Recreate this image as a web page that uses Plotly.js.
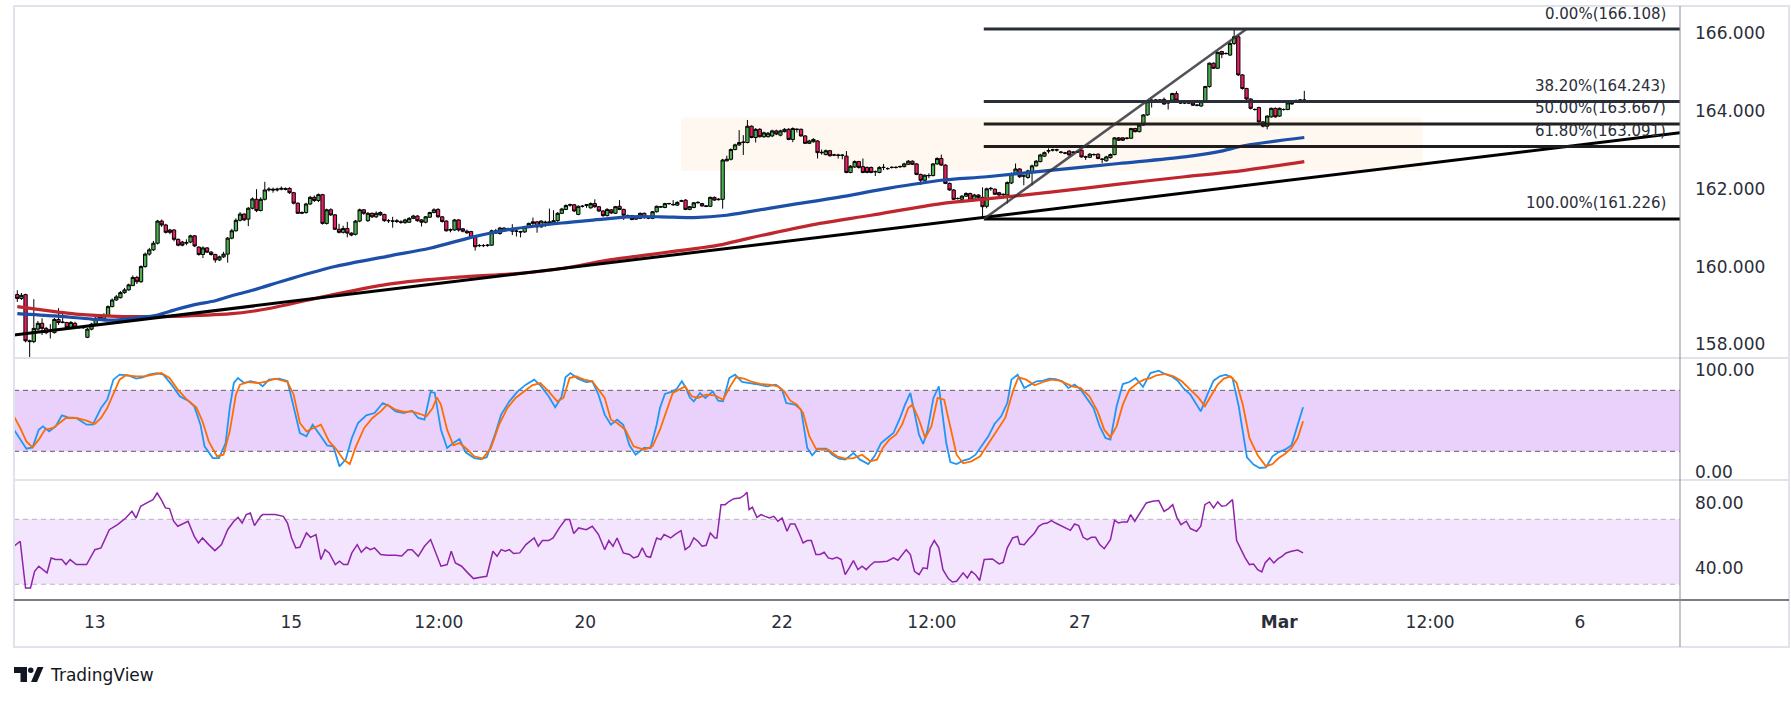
<!DOCTYPE html>
<html>
<head>
<meta charset="utf-8">
<script src="https://cdn.plot.ly/plotly-3.0.1.min.js"></script>
<style>
html,body{margin:0;padding:0;background:#ffffff;}
#chart{width:1791px;height:701px;}
</style>
</head>
<body>
<div id="chart"></div>
<script>
// ---------- price data (hourly candles, bar index 0..312) ----------
const openP = [
159.28,159.18,159.28,158.09,158.07,158.39,158.54,158.41,158.33,158.30,
158.64,158.56,158.56,158.43,158.54,158.44,158.43,158.18,158.39,158.52,
158.67,158.66,158.74,158.97,159.14,159.20,159.33,159.40,159.51,159.72,
159.61,160.00,160.32,160.43,160.60,161.17,161.07,160.94,160.94,160.70,
160.63,160.60,160.63,160.79,160.50,160.31,160.48,160.37,160.31,160.17,
160.25,160.32,160.73,160.92,161.19,161.35,161.22,161.50,161.73,161.44,
161.73,161.97,161.99,161.97,161.99,162.01,162.01,161.90,161.63,161.37,
161.39,161.61,161.78,161.70,161.85,161.11,161.46,161.33,160.96,160.88,
160.98,160.86,160.83,161.17,161.46,161.18,161.37,161.28,161.39,161.34,
161.18,161.17,161.18,161.15,161.13,161.14,161.24,161.30,161.20,161.14,
161.27,161.39,161.47,161.28,161.17,160.95,160.94,161.20,160.97,160.91,
160.90,160.75,160.54,160.54,160.54,160.55,160.92,160.85,160.99,160.96,
160.98,160.91,160.90,160.89,161.01,161.11,161.15,161.02,161.13,161.11,
161.11,161.18,161.37,161.47,161.58,161.59,161.34,161.55,161.57,161.51,
161.62,161.54,161.43,161.31,161.46,161.37,161.55,161.47,161.31,161.31,
161.22,161.24,161.37,161.25,161.24,161.41,161.53,161.52,161.62,161.60,
161.58,161.68,161.71,161.47,161.52,161.64,161.62,161.56,161.55,161.78,
161.72,161.73,162.72,162.76,163.01,163.13,163.19,163.19,163.61,163.32,
163.53,163.34,163.34,163.36,163.49,163.38,163.47,163.53,163.27,163.53,
163.53,163.36,163.17,163.21,163.23,162.94,162.88,162.98,162.87,162.87,
162.87,162.84,162.42,162.56,162.70,162.57,162.55,162.55,162.44,162.42,
162.55,162.52,162.55,162.55,162.57,162.57,162.63,162.71,162.64,162.37,
162.22,162.34,162.34,162.64,162.78,162.61,162.14,161.97,161.75,161.73,
161.81,161.88,161.71,161.84,161.78,161.55,162.00,161.99,161.90,161.86,
161.84,162.15,162.39,162.51,162.33,162.29,162.44,162.59,162.70,162.84,
162.97,163.00,163.00,162.94,162.92,162.97,162.94,162.95,162.99,162.82,
162.81,162.88,162.89,162.76,162.72,162.80,162.88,163.31,163.31,163.30,
163.30,163.55,163.47,163.64,163.90,164.26,164.28,164.28,164.30,164.22,
164.28,164.45,164.21,164.21,164.21,164.21,164.15,164.13,164.24,164.63,
165.23,165.10,165.53,165.48,165.44,165.74,165.91,164.93,164.58,164.31,
164.04,164.09,163.72,163.61,163.85,164.07,163.87,164.04,164.04,164.19,
164.25,164.28,164.28];

const highP = [
159.39,159.32,159.30,158.12,159.16,158.60,158.67,158.45,158.52,158.68,
158.93,158.84,158.58,158.60,158.58,158.46,158.47,158.42,158.55,158.72,
158.78,158.80,159.00,159.18,159.27,159.37,159.45,159.56,159.77,159.76,
160.03,160.36,160.48,160.66,161.20,161.21,161.10,160.97,160.96,160.72,
160.66,160.70,160.82,160.81,160.52,160.52,160.50,160.40,160.33,160.28,
160.38,160.76,160.97,161.24,161.40,161.37,161.53,161.78,161.99,161.78,
162.18,162.04,162.03,162.03,162.06,162.03,162.04,161.92,161.65,161.42,
161.64,161.82,161.83,161.88,161.87,161.49,161.50,161.35,161.10,161.05,
161.15,160.88,161.20,161.49,161.48,161.40,161.39,161.42,161.42,161.36,
161.22,161.28,161.22,161.19,161.23,161.27,161.33,161.32,161.22,161.30,
161.41,161.50,161.50,161.30,161.19,160.98,161.22,161.22,160.99,160.95,
160.92,160.77,160.58,160.58,160.58,160.95,160.97,161.02,161.01,161.00,
161.09,161.02,160.92,161.03,161.13,161.26,161.17,161.19,161.18,161.49,
161.45,161.40,161.51,161.60,161.62,161.61,161.57,161.58,161.61,161.65,
161.73,161.56,161.45,161.50,161.48,161.56,161.71,161.49,161.34,161.33,
161.30,161.39,161.39,161.28,161.43,161.57,161.56,161.64,161.64,161.71,
161.68,161.72,161.73,161.56,161.66,161.68,161.64,161.58,161.80,161.80,
161.76,162.77,162.85,163.04,163.16,163.51,163.38,163.77,163.63,163.56,
163.56,163.47,163.46,163.52,163.52,163.52,163.56,163.56,163.58,163.55,
163.55,163.38,163.26,163.30,163.25,163.01,163.01,163.00,162.90,162.90,
162.89,162.97,162.61,162.73,162.72,162.78,162.57,162.57,162.47,162.58,
162.64,162.55,162.58,162.58,162.60,162.67,162.74,162.73,162.66,162.39,
162.37,162.40,162.66,162.81,162.88,162.63,162.16,161.99,161.78,161.84,
161.91,161.90,161.87,161.86,162.04,162.03,162.05,162.01,161.92,161.88,
162.19,162.42,162.65,162.53,162.36,162.49,162.62,162.74,162.90,162.96,
163.04,163.03,163.03,162.97,162.95,162.99,162.97,162.98,163.01,162.85,
162.92,162.91,162.91,162.79,162.85,162.91,163.33,163.33,163.33,163.33,
163.57,163.57,163.66,163.92,164.26,164.30,164.31,164.31,164.35,164.24,
164.47,164.51,164.24,164.24,164.24,164.23,164.18,164.26,164.65,165.25,
165.25,165.53,165.55,165.51,165.77,166.108,165.95,164.95,164.60,164.33,
164.07,164.11,163.74,163.89,164.09,164.09,164.09,164.07,164.23,164.22,
164.30,164.31,164.52];

const lowP = [
159.09,159.14,158.05,157.66,158.03,158.35,158.24,158.26,158.15,158.28,
158.50,158.54,158.40,158.40,158.41,158.41,158.40,158.16,158.36,158.50,
158.60,158.64,158.72,158.95,159.12,159.18,159.30,159.38,159.50,159.55,
159.58,159.97,160.28,160.40,160.57,161.02,160.85,160.83,160.65,160.52,
160.52,160.55,160.60,160.50,160.28,160.22,160.35,160.28,160.10,160.14,
160.22,160.10,160.70,160.90,161.16,161.17,161.04,161.47,161.40,161.42,
161.70,161.93,161.90,161.93,161.96,161.96,161.87,161.60,161.35,161.35,
161.36,161.58,161.66,161.66,161.08,161.08,161.30,160.94,160.85,160.85,
160.75,160.78,160.80,161.14,161.33,161.15,161.25,161.25,161.30,161.15,
161.12,161.00,161.12,161.10,161.10,161.12,161.22,161.15,161.03,161.11,
161.25,161.37,161.25,161.13,160.90,160.88,160.92,160.90,160.88,160.84,
160.72,160.41,160.50,160.50,160.51,160.53,160.84,160.82,160.90,160.93,
160.81,160.77,160.75,160.87,160.99,161.07,160.87,161.00,161.02,161.09,
161.09,161.15,161.35,161.45,161.54,161.40,161.32,161.52,161.51,161.49,
161.51,161.40,161.28,161.29,161.35,161.35,161.45,161.20,161.28,161.19,
161.20,161.22,161.23,161.22,161.22,161.39,161.51,161.50,161.59,161.57,
161.56,161.66,161.45,161.45,161.50,161.62,161.54,161.53,161.53,161.69,
161.70,161.49,162.70,162.73,162.99,163.10,162.87,163.17,163.30,163.19,
163.32,163.31,163.32,163.33,163.38,163.35,163.45,163.25,163.20,163.45,
163.34,163.15,163.15,163.19,162.78,162.88,162.86,162.83,162.84,162.78,
162.76,162.40,162.40,162.54,162.52,162.40,162.40,162.40,162.33,162.40,
162.48,162.49,162.52,162.52,162.54,162.55,162.61,162.61,162.35,162.10,
162.20,162.27,162.32,162.62,162.59,162.12,161.95,161.71,161.72,161.71,
161.79,161.69,161.69,161.76,161.226,161.50,161.95,161.84,161.80,161.75,
161.62,162.12,162.36,162.28,162.09,162.26,162.09,162.57,162.68,162.82,
162.91,162.96,162.96,162.91,162.89,162.85,162.91,162.92,162.80,162.74,
162.79,162.85,162.76,162.66,162.70,162.78,162.86,163.23,163.23,163.27,
163.28,163.45,163.45,163.62,163.88,164.09,164.25,164.25,164.16,164.04,
164.26,164.26,164.18,164.18,164.18,164.13,164.12,164.11,164.22,164.60,
165.08,165.08,165.36,165.45,165.42,165.70,164.90,164.55,164.28,164.04,
164.01,163.70,163.58,163.53,163.83,163.83,163.85,164.01,164.02,164.16,
164.23,164.25,164.24];

const closeP = [
159.18,159.26,158.09,158.07,158.41,158.54,158.41,158.30,158.36,158.64,
158.56,158.57,158.43,158.56,158.44,158.43,158.43,158.39,158.52,158.67,
158.71,158.74,158.97,159.14,159.22,159.33,159.40,159.53,159.72,159.61,
160.00,160.32,160.43,160.60,161.17,161.07,160.88,160.88,160.70,160.55,
160.55,160.62,160.79,160.53,160.31,160.48,160.37,160.31,160.17,160.25,
160.32,160.73,160.92,161.19,161.35,161.20,161.50,161.74,161.44,161.73,
161.97,161.99,161.97,161.99,162.01,161.99,161.90,161.63,161.37,161.39,
161.61,161.78,161.70,161.85,161.11,161.46,161.33,160.96,160.88,160.98,
160.86,160.81,161.17,161.46,161.37,161.37,161.28,161.37,161.33,161.18,
161.18,161.17,161.16,161.14,161.20,161.24,161.30,161.18,161.14,161.28,
161.39,161.46,161.28,161.16,160.92,160.94,161.20,160.94,160.91,160.87,
160.75,160.51,160.54,160.54,160.55,160.92,160.86,160.99,160.92,160.97,
160.91,160.91,160.89,161.01,161.11,161.15,161.02,161.17,161.14,161.15,
161.18,161.37,161.48,161.57,161.59,161.43,161.55,161.55,161.59,161.62,
161.54,161.43,161.31,161.47,161.38,161.54,161.47,161.32,161.31,161.21,
161.28,161.37,161.26,161.25,161.41,161.55,161.54,161.62,161.62,161.59,
161.65,161.69,161.47,161.54,161.64,161.65,161.56,161.55,161.78,161.71,
161.73,162.74,162.76,163.01,163.13,163.19,163.20,163.61,163.32,163.53,
163.34,163.44,163.43,163.49,163.41,163.49,163.53,163.27,163.55,163.53,
163.36,163.17,163.23,163.27,162.93,162.93,162.98,162.85,162.87,162.86,
162.86,162.42,162.58,162.70,162.55,162.42,162.42,162.42,162.44,162.55,
162.55,162.52,162.55,162.55,162.57,162.64,162.71,162.63,162.37,162.22,
162.35,162.34,162.64,162.78,162.61,162.14,161.97,161.73,161.75,161.81,
161.88,161.71,161.84,161.78,161.54,162.00,162.01,161.86,161.84,161.85,
162.16,162.39,162.51,162.31,162.33,162.46,162.59,162.71,162.87,162.93,
162.98,163.00,163.00,162.94,162.92,162.87,162.94,162.95,162.82,162.82,
162.89,162.88,162.78,162.76,162.82,162.88,163.31,163.25,163.25,163.30,
163.55,163.47,163.64,163.90,164.24,164.28,164.28,164.28,164.18,164.21,
164.45,164.28,164.21,164.21,164.21,164.15,164.15,164.24,164.63,165.23,
165.10,165.51,165.46,165.48,165.74,165.91,164.93,164.58,164.31,164.07,
164.04,163.72,163.61,163.87,164.07,163.85,164.07,164.04,164.21,164.19,
164.27,164.28,164.28];

// ---------- moving averages: [bar index, price] ----------
const emaBlue = [[0,158.79],[9,158.73],[18,158.65],[23,158.62],[28,158.67],[33,158.73],[38,158.88],[43,159.02],
[48,159.12],[52,159.25],[57,159.39],[66,159.68],[77,160.00],[90,160.27],[100,160.47],[110,160.75],[116,160.89],
[121,160.98],[132,161.12],[142,161.22],[148,161.28],[156,161.28],[164,161.26],[172,161.32],[175,161.37],
[187,161.58],[199,161.78],[211,162.01],[224,162.22],[235,162.31],[251,162.48],[267,162.65],[283,162.82],
[291,162.95],[298,163.12],[312,163.32]];
const emaRed = [[0,158.97],[10,158.83],[15,158.77],[24,158.72],[31,158.71],[38,158.72],[52,158.79],[57,158.85],
[61,158.92],[74,159.22],[90,159.55],[107,159.73],[121,159.82],[132,159.95],[144,160.18],[149,160.25],
[170,160.55],[177,160.72],[193,161.08],[207,161.32],[224,161.62],[235,161.74],[251,161.92],[267,162.12],
[283,162.31],[295,162.44],[312,162.70]];

// ---------- Stochastic RSI %K / %D and RSI: [bar index, value] ----------
const stochK = [[-0.8,41.3],[0.7,31.5],[2.2,22.6],[3.7,23.9],[5.2,41.3],[6.2,44.6],[7.7,39.7],[9.3,44.6],[10.8,55.4],
[12.3,53.4],[14.3,52.8],[16.8,46.2],[18.3,46.2],[20.3,62.6],[21.8,70.8],[23.3,90.5],[24.8,95.4],[26.8,94.8],
[28.8,91.5],[30.4,92.8],[31.9,95.4],[33.9,97.0],[35.4,95.4],[37.4,85.6],[39.4,74.1],[41.4,69.8],[42.9,64.3],
[44.4,46.2],[45.4,24.9],[47.4,13.4],[48.9,13.4],[50.5,28.2],[51.5,62.6],[52.5,87.2],[53.5,92.1],[55.0,87.2],
[56.5,88.9],[58.5,87.2],[59.5,83.9],[61.0,90.5],[63.5,91.5],[65.5,88.9],[67.0,64.3],[68.5,38.0],[70.1,34.8],
[71.6,46.2],[73.6,34.8],[75.1,25.9],[76.6,24.9],[78.1,5.2],[79.6,11.8],[81.1,33.1],[82.6,47.9],[84.6,55.4],
[86.6,57.7],[88.6,67.5],[90.2,64.3],[91.7,59.3],[93.7,57.7],[95.7,60.0],[97.2,52.8],[98.7,51.1],[100.2,78.4],
[101.2,77.4],[102.7,41.3],[104.2,23.3],[105.7,28.2],[107.2,32.1],[108.7,19.0],[110.8,13.4],[112.3,12.5],
[113.8,14.1],[115.8,36.4],[117.3,56.1],[119.3,69.2],[121.3,79.0],[123.3,85.6],[125.3,90.5],[126.8,84.9],
[128.8,74.1],[130.4,63.3],[131.9,73.1],[132.9,92.8],[134.1,97.0],[135.9,91.5],[137.9,88.2],[139.4,88.9],
[140.9,75.7],[142.4,56.1],[143.9,46.2],[145.4,51.1],[146.9,46.2],[148.4,25.9],[149.9,16.7],[151.9,23.3],
[153.5,23.3],[155.0,46.2],[155.8,62.6],[157.0,76.4],[158.9,79.0],[159.9,81.6],[161.1,88.9],[162.1,82.3],
[163.0,73.1],[164.0,69.2],[165.5,77.4],[166.8,72.5],[168.6,79.0],[169.9,69.8],[171.1,69.2],[172.6,92.1],
[174.0,95.4],[175.7,88.2],[177.7,87.2],[179.8,85.6],[181.8,83.9],[183.9,85.6],[185.4,80.7],[186.4,67.5],
[188.5,65.9],[190.0,61.0],[191.5,23.3],[192.7,16.1],[194.1,22.6],[196.1,22.6],[197.6,16.7],[199.2,12.8],
[200.7,11.8],[202.7,18.4],[204.3,11.8],[206.3,7.5],[207.8,15.1],[209.4,28.2],[210.9,33.1],[212.4,38.0],
[214.0,52.8],[215.2,65.9],[216.5,77.4],[217.5,57.7],[218.6,36.4],[219.6,27.2],[220.6,39.7],[222.1,72.5],
[223.4,83.9],[224.4,52.8],[225.2,28.2],[226.2,9.5],[227.7,7.5],[229.3,10.8],[230.8,12.5],[232.3,16.7],
[233.9,25.9],[235.4,34.8],[236.9,46.9],[238.5,54.4],[240.0,67.5],[241.0,90.5],[242.5,95.4],[244.1,82.3],
[245.6,85.6],[247.1,88.9],[248.7,89.5],[250.2,91.5],[251.7,91.1],[253.3,88.9],[254.8,82.3],[256.3,85.6],
[257.8,80.7],[259.4,70.8],[260.9,62.6],[262.4,44.6],[263.8,33.1],[265.0,31.5],[266.5,64.3],[268.0,86.2],
[269.6,88.2],[271.1,92.1],[272.9,83.3],[274.7,97.0],[276.7,99.3],[278.2,96.1],[279.8,93.8],[281.3,89.5],
[282.8,81.6],[284.4,75.7],[285.9,65.9],[286.9,59.3],[288.5,75.7],[290.0,89.5],[291.5,93.8],[293.0,95.4],
[294.6,92.1],[296.1,64.3],[298.1,14.1],[299.7,6.9],[301.2,3.6],[302.7,4.3],[304.3,15.1],[305.8,19.3],
[307.3,21.6],[308.9,25.9],[310.4,46.2],[311.7,63.3]];

const stochD = [[-0.8,54.4],[0.7,43.0],[2.2,29.8],[3.7,23.9],[5.2,31.5],[6.7,41.3],[8.7,43.0],[10.3,47.9],[11.8,52.8],
[14.3,52.8],[16.8,50.2],[18.8,46.9],[20.3,52.8],[21.8,62.6],[23.3,77.4],[24.8,90.5],[26.3,94.8],[28.8,93.8],
[30.9,93.8],[32.9,95.4],[34.9,97.0],[36.9,92.1],[38.9,80.7],[40.9,71.8],[43.4,63.3],[44.9,49.5],[46.4,29.8],
[48.4,15.1],[50.0,16.7],[51.5,39.7],[53.0,75.7],[54.0,85.6],[56.0,88.2],[58.5,87.2],[60.5,88.9],[62.5,91.5],
[65.5,88.2],[67.0,75.7],[68.5,47.9],[70.1,39.7],[72.1,43.0],[73.6,46.2],[75.6,29.8],[77.1,23.3],[79.1,11.8],
[80.6,7.5],[82.1,24.9],[84.1,43.0],[86.1,52.8],[88.1,59.3],[89.7,65.9],[91.7,61.0],[93.7,58.7],[95.7,59.3],
[97.7,56.7],[99.2,54.4],[100.7,62.6],[101.7,73.1],[102.7,65.9],[104.2,41.3],[105.7,25.9],[107.2,28.2],
[108.7,23.3],[110.8,15.1],[112.8,12.8],[114.8,23.3],[116.8,46.2],[118.8,62.6],[120.8,72.5],[122.8,79.0],
[124.8,84.9],[126.8,87.2],[128.8,79.0],[130.9,69.2],[132.4,72.5],[133.9,92.1],[135.4,93.8],[137.4,90.5],
[139.4,88.9],[140.9,80.7],[142.4,72.5],[143.9,51.1],[145.4,47.9],[147.4,41.3],[149.4,24.9],[151.9,21.6],
[154.0,24.9],[155.8,41.3],[157.3,59.3],[158.9,77.4],[160.4,80.7],[161.9,83.9],[163.5,74.1],[165.0,72.5],
[167.0,75.7],[169.1,75.1],[171.1,70.8],[172.6,82.3],[174.2,92.8],[176.2,91.5],[178.2,88.2],[180.3,86.2],
[182.3,85.6],[184.4,83.9],[185.9,79.0],[187.4,69.8],[189.0,65.9],[190.5,57.7],[192.0,34.8],[193.6,22.6],
[195.1,21.6],[196.6,21.6],[198.7,15.1],[200.7,12.8],[202.7,13.4],[204.8,16.7],[206.8,10.2],[208.4,11.8],
[209.9,23.9],[211.4,31.5],[213.0,36.4],[214.5,46.2],[216.0,62.6],[217.0,65.9],[218.6,51.1],[220.1,33.1],
[221.6,44.6],[223.1,72.5],[224.7,70.8],[226.2,43.0],[227.7,16.7],[229.3,8.2],[231.3,10.2],[233.4,15.1],
[235.4,27.2],[237.4,39.7],[239.5,52.8],[241.5,80.7],[242.7,92.8],[244.6,90.5],[246.6,84.9],[248.7,88.2],
[250.7,90.5],[252.7,89.5],[254.3,86.2],[255.8,83.9],[257.8,82.3],[259.9,74.1],[261.9,59.3],[263.5,41.3],
[265.0,33.8],[266.5,44.6],[268.0,65.9],[269.6,80.7],[271.6,87.2],[273.1,90.5],[274.7,92.1],[276.2,94.8],
[278.2,96.1],[280.3,93.8],[282.3,88.9],[284.4,80.7],[286.4,72.5],[287.9,64.3],[289.5,75.7],[291.0,85.6],
[292.5,91.5],[294.1,93.8],[295.6,87.2],[297.1,65.9],[298.7,33.1],[300.7,16.1],[302.7,5.2],[304.3,7.5],
[305.8,13.4],[307.3,17.4],[308.9,23.3],[310.4,33.1],[311.7,49.5]];

const rsi = [[-0.8,53.4],[0.7,56.5],[2.0,27.7],[3.2,27.7],[4.2,38.0],[5.2,41.1],[7.2,37.0],[8.2,46.2],[9.3,45.2],
[10.8,45.2],[11.8,42.1],[12.8,45.2],[14.3,42.1],[16.8,42.1],[18.8,51.3],[20.3,52.4],[22.3,63.6],[24.3,66.7],
[26.3,70.8],[27.8,74.9],[28.8,70.8],[29.9,78.0],[31.4,80.1],[32.9,82.1],[33.9,86.2],[34.9,82.1],[35.9,77.0],
[36.9,76.6],[37.9,68.8],[38.9,65.7],[41.4,68.8],[42.9,59.5],[43.9,55.4],[44.9,58.5],[46.4,54.4],[47.9,50.7],
[49.5,54.4],[51.0,63.6],[52.5,68.8],[53.5,71.2],[54.5,67.7],[55.5,72.9],[56.5,73.9],[57.5,66.1],[59.0,71.8],
[59.5,72.9],[62.5,72.9],[64.5,71.8],[65.5,67.7],[66.5,58.5],[67.5,52.4],[68.5,52.8],[70.1,61.6],[71.1,58.9],
[72.4,60.6],[73.6,45.2],[74.6,51.3],[75.6,49.3],[77.1,42.1],[78.1,44.2],[79.1,42.1],[80.1,42.1],[81.1,49.3],
[82.4,54.4],[83.4,49.7],[84.6,52.8],[85.6,51.3],[86.6,52.4],[88.1,48.3],[89.7,47.8],[91.7,47.8],[93.2,47.4],
[94.7,51.3],[95.7,51.3],[97.2,47.2],[98.7,53.4],[100.2,57.5],[101.7,48.3],[102.7,41.1],[104.2,42.1],
[105.2,50.3],[106.2,43.1],[107.7,41.1],[109.2,37.0],[110.6,33.5],[112.3,34.3],[113.8,34.9],[115.3,50.3],
[116.3,47.2],[117.3,51.3],[118.3,50.3],[119.3,51.3],[120.3,48.9],[121.8,49.3],[123.3,54.4],[125.3,58.5],
[126.3,53.4],[127.3,56.9],[128.8,56.9],[129.9,58.5],[131.4,64.7],[132.9,69.8],[133.9,69.8],[134.9,61.2],
[136.1,64.7],[137.9,63.6],[139.4,65.7],[140.9,60.6],[142.4,51.3],[143.4,56.9],[144.4,53.4],[145.4,58.5],
[146.9,49.3],[148.4,48.3],[149.4,46.2],[150.5,47.2],[151.5,52.4],[152.5,47.2],[153.5,46.6],[155.0,58.5],
[156.0,57.5],[156.8,60.6],[158.4,58.5],[159.4,60.6],[160.9,63.0],[161.9,51.3],[163.0,53.4],[164.0,58.5],
[165.0,56.5],[166.0,53.4],[167.0,54.0],[168.0,61.6],[169.1,58.5],[169.6,58.5],[170.6,79.0],[171.6,79.0],
[172.6,81.1],[173.7,82.7],[175.2,83.1],[176.2,84.8],[176.9,86.6],[177.4,75.9],[178.2,77.4],[179.3,71.2],
[180.3,72.9],[181.3,71.8],[182.3,70.8],[183.4,71.8],[184.4,68.8],[185.4,70.8],[186.6,62.6],[187.4,67.1],
[188.5,67.1],[189.5,61.6],[190.5,55.4],[191.5,56.9],[192.5,56.9],[193.6,48.3],[194.6,48.3],[195.6,49.7],
[196.6,46.2],[197.6,45.6],[198.7,46.6],[199.7,45.2],[200.7,35.9],[201.7,40.1],[202.7,44.6],[203.8,39.0],
[204.8,41.1],[205.8,39.0],[206.8,41.7],[207.8,43.7],[208.9,43.7],[210.9,44.2],[212.4,46.2],[213.5,44.8],
[214.5,48.3],[215.5,51.3],[216.5,48.3],[217.5,38.0],[218.6,35.9],[219.6,40.1],[220.6,39.6],[221.3,52.4],
[222.3,56.9],[223.4,52.4],[224.4,39.0],[225.7,33.5],[226.7,31.4],[227.7,31.8],[229.3,37.0],[230.3,33.9],
[231.3,38.0],[232.3,35.9],[233.3,32.3],[234.4,45.2],[236.4,45.6],[238.0,42.5],[239.0,43.5],[240.0,52.4],
[241.3,58.5],[242.5,59.5],[243.0,54.8],[244.1,54.4],[245.1,57.5],[246.6,61.6],[247.6,65.7],[248.7,67.3],
[249.7,67.7],[250.7,69.2],[251.7,67.7],[253.3,65.7],[255.3,63.2],[256.3,67.1],[257.3,66.1],[258.4,58.9],
[259.4,57.5],[260.4,58.9],[261.4,58.9],[262.4,54.4],[263.5,51.9],[265.0,57.5],[266.0,69.4],[267.0,67.7],
[268.0,68.4],[269.1,68.4],[269.9,72.9],[270.9,68.8],[272.1,73.9],[273.7,80.1],[275.2,81.1],[276.7,81.5],
[278.0,74.9],[279.1,76.6],[280.1,79.0],[281.1,71.2],[282.1,66.7],[283.4,68.8],[284.4,64.3],[285.9,62.6],
[286.9,65.7],[287.9,79.0],[289.0,80.7],[290.0,77.0],[291.0,80.7],[292.0,78.0],[293.0,78.4],[294.6,82.1],
[295.6,56.9],[296.6,51.3],[297.6,46.6],[298.7,42.1],[299.7,42.5],[300.7,39.0],[301.7,37.6],[302.5,43.1],
[303.6,46.2],[304.6,43.1],[305.6,45.6],[306.6,47.2],[307.6,49.3],[308.9,50.3],[310.4,51.1],[311.7,49.3]];

// ---------- axis labels ----------
const timeTickPos = [18.8, 66.4, 102.2, 137.7, 185.4, 221.7, 257.6, 305.9, 342.5, 378.8];
const timeTickText = ['13', '15', '12:00', '20', '22', '12:00', '27', '<b>Mar</b>', '12:00', '6'];
const priceTicks = [158, 160, 162, 164, 166];
const stochTicks = [0, 100];
const rsiTicks = [40, 80];

// ---------- drawings ----------
const trendLine = [[-0.8, 158.24], [403.08, 163.44]];
const fibAnchors = [[234.3, 161.226], [298, 166.108]];
const fibLevels = [0, 0.382, 0.5, 0.618, 1];
const fibPrices = [166.108, 164.243, 163.667, 163.091, 161.226];
const zoneBox = {x: [160.9, 340.7], y: [162.46, 163.83]};
const stochBand = [20, 80];
const rsiBand = [30, 70];

// ---------- geometry helpers (pixel -> paper) ----------
const L = 14, R = 1680, T = 6, B = 600;
const px = v => (v - L) / (R - L);
const py = v => (B - v) / (B - T);
const X_RANGE = [-0.8, 403.08];

const FONT = 'DejaVu Sans';
const barIdx = openP.map((_, i) => i);
const col = (arr, k) => arr.map(p => p[k]);

const traces = [
  {type: 'scatter', mode: 'lines', x: col(emaRed, 0), y: col(emaRed, 1), xaxis: 'x', yaxis: 'y',
   line: {color: '#c0262d', width: 3.2, shape: 'spline', smoothing: 0.8}, hoverinfo: 'skip'},
  {type: 'scatter', mode: 'lines', x: col(emaBlue, 0), y: col(emaBlue, 1), xaxis: 'x', yaxis: 'y',
   line: {color: '#1c4fa8', width: 3.2, shape: 'spline', smoothing: 0.8}, hoverinfo: 'skip'},
  {type: 'candlestick', x: barIdx, open: openP, high: highP, low: lowP, close: closeP,
   xaxis: 'x', yaxis: 'y', whiskerwidth: 0,
   increasing: {line: {color: '#000000', width: 1}, fillcolor: '#4caf50'},
   decreasing: {line: {color: '#000000', width: 1}, fillcolor: '#e91e63'},
   hoverinfo: 'skip'},
  {type: 'scatter', mode: 'lines', x: col(stochK, 0), y: col(stochK, 1), xaxis: 'x', yaxis: 'y2',
   line: {color: '#2196f3', width: 1.8}, hoverinfo: 'skip'},
  {type: 'scatter', mode: 'lines', x: col(stochD, 0), y: col(stochD, 1), xaxis: 'x', yaxis: 'y2',
   line: {color: '#ff6d00', width: 1.8}, hoverinfo: 'skip'},
  {type: 'scatter', mode: 'lines', x: col(rsi, 0), y: col(rsi, 1), xaxis: 'x', yaxis: 'y3',
   line: {color: '#8e24aa', width: 1.5}, hoverinfo: 'skip'}
];

const shapes = [];
// highlighted zone
shapes.push({type: 'rect', xref: 'x', yref: 'y', x0: zoneBox.x[0], x1: zoneBox.x[1], y0: zoneBox.y[0], y1: zoneBox.y[1],
  fillcolor: '#fff8f0', line: {width: 0}, layer: 'below'});
// stoch band
shapes.push({type: 'rect', xref: 'paper', yref: 'y2', x0: 0, x1: 1, y0: stochBand[0], y1: stochBand[1],
  fillcolor: '#e9d1fb', line: {width: 0}, layer: 'below'});
stochBand.forEach(v => shapes.push({type: 'line', xref: 'paper', yref: 'y2', x0: 0, x1: 1, y0: v, y1: v,
  line: {color: '#5d606b', width: 1, dash: '5px,4px'}, layer: 'below'}));
// rsi band
shapes.push({type: 'rect', xref: 'paper', yref: 'y3', x0: 0, x1: 1, y0: rsiBand[0], y1: rsiBand[1],
  fillcolor: '#f3e5fd', line: {width: 0}, layer: 'below'});
rsiBand.forEach(v => shapes.push({type: 'line', xref: 'paper', yref: 'y3', x0: 0, x1: 1, y0: v, y1: v,
  line: {color: '#b8b2c4', width: 1, dash: '5px,4px'}, layer: 'below'}));
// trend line
shapes.push({type: 'line', xref: 'x', yref: 'y', x0: trendLine[0][0], y0: trendLine[0][1], x1: trendLine[1][0], y1: trendLine[1][1],
  line: {color: '#000000', width: 3}});
// fib levels
const fibColors = ['#2a2e39', '#2a2e39', '#221f1c', '#1f1c19', '#050505'];
fibPrices.forEach((p, k) => shapes.push({type: 'line', xref: 'x', yref: 'y', x0: fibAnchors[0][0], x1: X_RANGE[1], y0: p, y1: p,
  line: {color: fibColors[k], width: 3}}));
// fib diagonal
shapes.push({type: 'line', xref: 'x', yref: 'y', x0: fibAnchors[0][0], y0: fibAnchors[0][1], x1: fibAnchors[1][0], y1: fibAnchors[1][1],
  line: {color: 'rgba(52,52,60,0.85)', width: 2.5}});
// frame and separators
shapes.push({type: 'rect', xref: 'paper', yref: 'paper', x0: 0, x1: px(1789), y0: py(647), y1: 1,
  line: {color: '#e0e3eb', width: 2}, fillcolor: 'rgba(0,0,0,0)'});
[358, 480].forEach(y => shapes.push({type: 'line', xref: 'paper', yref: 'paper', x0: 0, x1: px(1789), y0: py(y), y1: py(y),
  line: {color: '#e0e3eb', width: 2}}));
shapes.push({type: 'line', xref: 'paper', yref: 'paper', x0: 0, x1: px(1789), y0: py(600), y1: py(600),
  line: {color: '#50535e', width: 1.5}});
shapes.push({type: 'line', xref: 'paper', yref: 'paper', x0: 1, x1: 1, y0: py(647), y1: 1,
  line: {color: '#8a8d96', width: 1}});
// TradingView logo mark
shapes.push({type: 'rect', xref: 'paper', yref: 'paper', x0: px(14), x1: px(27), y0: py(673), y1: py(667),
  fillcolor: '#131722', line: {width: 0}});
shapes.push({type: 'rect', xref: 'paper', yref: 'paper', x0: px(20.5), x1: px(27), y0: py(682), y1: py(667),
  fillcolor: '#131722', line: {width: 0}});
shapes.push({type: 'circle', xref: 'paper', yref: 'paper', x0: px(28), x1: px(33.5), y0: py(673), y1: py(667.5),
  fillcolor: '#131722', line: {width: 0}});
shapes.push({type: 'path', xref: 'paper', yref: 'paper',
  path: `M ${px(31)} ${py(682)} L ${px(37.5)} ${py(667)} L ${px(43.5)} ${py(667)} L ${px(37)} ${py(682)} Z`,
  fillcolor: '#131722', line: {width: 0}});

const annotations = fibLevels.map((lv, k) => ({
  xref: 'x', yref: 'y', x: 400.2, y: fibPrices[k], xanchor: 'right', yanchor: 'middle', yshift: 15.5,
  text: `${(lv * 100).toFixed(2)}%(${fibPrices[k].toFixed(3)})`, showarrow: false,
  font: {family: FONT, size: 15, color: '#2a2e39'}
}));
annotations.push({xref: 'paper', yref: 'paper', x: px(48), y: py(675), xanchor: 'left', yanchor: 'middle',
  text: 'TradingView', showarrow: false, font: {family: FONT, size: 17, color: '#131722'}});

const tickFont = {family: FONT, size: 17, color: '#2a2e39'};
const yCommon = {side: 'right', anchor: 'x', showgrid: false, zeroline: false, showline: false, ticks: '',
  tickfont: tickFont, ticklabelstandoff: 14, fixedrange: true};

const layout = {
  width: 1791, height: 701,
  margin: {l: L, r: 1791 - R, t: T, b: 701 - B, pad: 0},
  paper_bgcolor: '#ffffff', plot_bgcolor: '#ffffff',
  showlegend: false, hovermode: false, dragmode: false,
  boxgap: 0.2, boxgroupgap: 0,
  xaxis: {range: X_RANGE, anchor: 'y3', showgrid: false, zeroline: false, showline: false, ticks: '',
    tickvals: timeTickPos, ticktext: timeTickText, tickfont: tickFont, ticklabelstandoff: 10,
    rangeslider: {visible: false}, fixedrange: true},
  yaxis: Object.assign({}, yCommon, {domain: [py(358), 1], range: [157.648, 166.702],
    tickvals: priceTicks, ticktext: priceTicks.map(v => v.toFixed(3))}),
  yaxis2: Object.assign({}, yCommon, {domain: [py(480), py(358)], range: [-8.2, 111.8],
    tickvals: stochTicks, ticktext: stochTicks.map(v => v.toFixed(2))}),
  yaxis3: Object.assign({}, yCommon, {domain: [0, py(480)], range: [20.3, 94.2],
    tickvals: rsiTicks, ticktext: rsiTicks.map(v => v.toFixed(2))}),
  shapes: shapes,
  annotations: annotations
};

Plotly.newPlot('chart', traces, layout, {staticPlot: true, displayModeBar: false});
</script>
</body>
</html>
